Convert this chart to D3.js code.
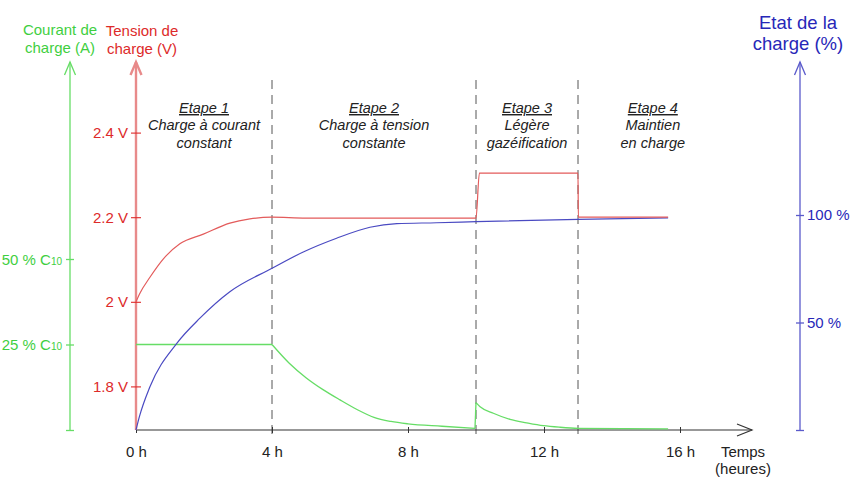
<!DOCTYPE html>
<html>
<head>
<meta charset="utf-8">
<script src="https://cdn.jsdelivr.net/npm/d3@7"></script>
<style>
	body { margin: 0; background: #fff; }
	text { font-family: "Liberation Sans", Arial, sans-serif; }
</style>
</head>
<body>
<div id="chart"></div>
<script>

///////////////////////////////////////////////////////////////////////////
//////////////////////////////// The data /////////////////////////////////
///////////////////////////////////////////////////////////////////////////

//Tension de charge (V)
var timeTension = [0, 0.1, 0.41, 0.8, 1.29, 1.98, 2.76, 3.35, 4, 5, 10, 10.1, 13, 13.01, 15.65];
var tension     = [2.0, 2.018, 2.058, 2.101, 2.137, 2.16, 2.186, 2.196, 2.2, 2.198, 2.198, 2.304, 2.304, 2.2, 2.2];

//Courant de charge (% C10)
var timeCourant = [0, 4, 4.5, 5, 5.5, 6, 6.5, 7, 7.5, 8, 9, 9.97, 10.0, 10.12, 10.51, 11, 11.49, 11.98, 12.47, 13.01, 15.65];
var courant     = [25, 25, 19.6, 15.3, 11.8, 8.8, 6.0, 3.7, 2.5, 1.8, 1.1, 0.5, 8.0, 6.8, 4.9, 3.1, 2.1, 1.26, 0.8, 0.5, 0.3];
//index where each smooth piece of the current curve starts
var courantPieces = [0, 1, 12];

//Etat de la charge (%)
var timeEtat = [0, 0.1, 0.41, 1.2, 1.88, 2.76, 4, 4.92, 5.9, 6.88, 7.67, 8.84, 10, 13, 15.65];
var etat     = [0, 6.2, 20.1, 40.3, 52, 64.3, 75.2, 82.8, 89.2, 94.3, 96.0, 96.4, 96.9, 98, 98.7];

//Axes
var timeTicks = [0, 4, 8, 12, 16];
var tensionTicks = [1.8, 2, 2.2, 2.4];
var courantTicks = [0, 25, 50];
var etatTicks = [0, 50, 100];

//Stages
var stageLimits = [4, 10, 13];
var stageCenters = [2, 7, 11.5, 15.2];
var stageTitles = ["Etape 1", "Etape 2", "Etape 3", "Etape 4"];
var stageTexts = [
	["Charge à courant", "constant"],
	["Charge à tension", "constante"],
	["Légère", "gazéification"],
	["Maintien", "en charge"]
];

///////////////////////////////////////////////////////////////////////////
//////////////////// Set up and initiate svg container ////////////////////
///////////////////////////////////////////////////////////////////////////

var width = 851,
	height = 483;

var svg = d3.select("#chart").append("svg")
	.attr("width", width)
	.attr("height", height);

var green = "#3fcf3f", greenLine = "#66dd66",
	red = "#dd2a2a", redLine = "#e35b5b", redAxis = "#e88a8a",
	blue = "#2727b8", blueLine = "#4a4ac2", blueAxis = "#5a5acb",
	grey = "#222";

//Scales
var x = d3.scaleLinear().domain([0, 16]).range([136, 680]);
var yV = d3.scaleLinear().domain([1.8, 2.4]).range([386.4, 132.6]);
var yI = d3.scaleLinear().domain([0, 50]).range([430, 259]);
var yE = d3.scaleLinear().domain([0, 100]).range([430, 215]);

var axisTop = 62,
	baseY = 430;

///////////////////////////////////////////////////////////////////////////
///////////////////////////// Stage dividers //////////////////////////////
///////////////////////////////////////////////////////////////////////////

svg.selectAll(".stageLine")
	.data(stageLimits)
	.enter().append("line")
	.attr("class", "stageLine")
	.attr("x1", function(d) { return x(d); })
	.attr("x2", function(d) { return x(d); })
	.attr("y1", 80)
	.attr("y2", 434)
	.style("stroke", "#555")
	.style("stroke-width", 1)
	.style("stroke-dasharray", "9,6");

var stage = svg.selectAll(".stage")
	.data(stageTitles)
	.enter().append("g")
	.attr("class", "stage")
	.attr("transform", function(d, i) { return "translate(" + x(stageCenters[i]) + ",0)"; });

stage.append("text")
	.attr("y", 113)
	.attr("text-anchor", "middle")
	.style("font-size", "14.5px")
	.style("font-style", "italic")
	.style("text-decoration", "underline")
	.style("fill", grey)
	.text(function(d) { return d; });

stage.each(function(d, i) {
	d3.select(this).selectAll(".stageText")
		.data(stageTexts[i])
		.enter().append("text")
		.attr("y", function(t, j) { return 130 + j * 17.5; })
		.attr("text-anchor", "middle")
		.style("font-size", "14.5px")
		.style("font-style", "italic")
		.style("fill", grey)
		.text(function(t) { return t; });
});

///////////////////////////////////////////////////////////////////////////
///////////////////////////////// Axes ////////////////////////////////////
///////////////////////////////////////////////////////////////////////////

function arrowUp(cx, color, w) {
	svg.append("path")
		.attr("d", "M" + (cx - 5.5) + "," + (axisTop + 13) + "L" + cx + "," + axisTop + "L" + (cx + 5.5) + "," + (axisTop + 13))
		.style("fill", "none")
		.style("stroke", color)
		.style("stroke-width", w);
	svg.append("line")
		.attr("x1", cx).attr("x2", cx)
		.attr("y1", baseY).attr("y2", axisTop)
		.style("stroke", color)
		.style("stroke-width", w);
}

//Time axis
svg.append("line")
	.attr("x1", 136).attr("x2", 752)
	.attr("y1", baseY).attr("y2", baseY)
	.style("stroke", "#333")
	.style("stroke-width", 1.2);
svg.append("path")
	.attr("d", "M737,424L752,430L737,436")
	.style("fill", "none")
	.style("stroke", "#333")
	.style("stroke-width", 1.2);

var xAxis = svg.append("g")
	.attr("transform", "translate(0," + baseY + ")")
	.call(d3.axisBottom(x).tickValues(timeTicks).tickSize(3).tickFormat(function(d) { return d + " h"; }));
xAxis.select(".domain").remove();
xAxis.selectAll(".tick line").attr("y1", -3).style("stroke", "#333");
xAxis.selectAll(".tick text")
	.attr("y", 27).attr("dy", 0)
	.style("font-size", "15px")
	.style("font-family", "Liberation Sans, Arial, sans-serif")
	.style("fill", grey);

svg.append("text").attr("x", 743).attr("y", 457).attr("text-anchor", "middle")
	.style("font-size", "15px").style("fill", grey).text("Temps");
svg.append("text").attr("x", 743).attr("y", 474).attr("text-anchor", "middle")
	.style("font-size", "15px").style("fill", grey).text("(heures)");

//Current axis (green)
arrowUp(70, greenLine, 1.3);
var iAxis = svg.append("g")
	.attr("transform", "translate(70,0)")
	.call(d3.axisLeft(yI).tickValues(courantTicks).tickSize(4).tickFormat(""));
iAxis.select(".domain").remove();
iAxis.selectAll(".tick line").attr("x2", -4).attr("x1", 4).style("stroke", greenLine).style("stroke-width", 1.3);
iAxis.selectAll(".tick")
	.filter(function(d) { return d > 0; })
	.append("text")
	.attr("x", -8)
	.attr("dy", "0.35em")
	.attr("text-anchor", "end")
	.style("font-size", "15px")
	.style("font-family", "Liberation Sans, Arial, sans-serif")
	.style("fill", green)
	.each(function(d) {
		var t = d3.select(this);
		t.append("tspan").text(d + " % C");
		t.append("tspan").style("font-size", "10px").text("10");
	});

//Tension axis (red)
arrowUp(136, redAxis, 2.4);
var vAxis = svg.append("g")
	.attr("transform", "translate(136,0)")
	.call(d3.axisLeft(yV).tickValues(tensionTicks).tickSize(5).tickFormat(function(d) { return d + " V"; }));
vAxis.select(".domain").remove();
vAxis.selectAll(".tick line").attr("x1", 5).attr("x2", -5).style("stroke", red).style("stroke-width", 1.1);
vAxis.selectAll(".tick text")
	.attr("x", -8)
	.style("font-size", "15px")
	.style("font-family", "Liberation Sans, Arial, sans-serif")
	.style("fill", red);

//Etat axis (blue)
arrowUp(800, blueAxis, 1.3);
var eAxis = svg.append("g")
	.attr("transform", "translate(800,0)")
	.call(d3.axisRight(yE).tickValues(etatTicks).tickSize(4).tickFormat(function(d) { return d > 0 ? d + " %" : ""; }));
eAxis.select(".domain").remove();
eAxis.selectAll(".tick line").attr("x1", -4).attr("x2", 4).style("stroke", blueAxis).style("stroke-width", 1.3);
eAxis.selectAll(".tick text")
	.attr("x", 7)
	.style("font-size", "15px")
	.style("font-family", "Liberation Sans, Arial, sans-serif")
	.style("fill", blue);

//Axis titles
function title(lines, cx, y0, dy, size, color) {
	svg.selectAll(null)
		.data(lines)
		.enter().append("text")
		.attr("x", cx)
		.attr("y", function(d, i) { return y0 + i * dy; })
		.attr("text-anchor", "middle")
		.style("font-size", size)
		.style("fill", color)
		.text(function(d) { return d; });
}
title(["Courant de", "charge (A)"], 60, 35, 18, "15px", green);
title(["Tension de", "charge (V)"], 142, 36, 18, "15px", red);
title(["Etat de la", "charge (%)"], 798, 29, 21, "18.5px", blue);

///////////////////////////////////////////////////////////////////////////
///////////////////////////////// Curves //////////////////////////////////
///////////////////////////////////////////////////////////////////////////

var lineV = d3.line()
	.curve(d3.curveMonotoneX)
	.x(function(d, i) { return x(timeTension[i]); })
	.y(function(d) { return yV(d); });

var lineE = d3.line()
	.curve(d3.curveMonotoneX)
	.x(function(d, i) { return x(timeEtat[i]); })
	.y(function(d) { return yE(d); });

//Current: smooth pieces, joined by straight segments (the jump at 10 h)
var lineI = d3.line()
	.curve(d3.curveMonotoneX)
	.x(function(d) { return x(timeCourant[d]); })
	.y(function(d) { return yI(courant[d]); });
var lineIStraight = d3.line()
	.x(function(d) { return x(timeCourant[d]); })
	.y(function(d) { return yI(courant[d]); });

var idx = d3.range(courant.length);
courantPieces.forEach(function(start, k) {
	var end = k < courantPieces.length - 1 ? courantPieces[k + 1] : courant.length;
	//piece stops one point before the next start when there is a jump
	var piece = idx.slice(start, k < courantPieces.length - 1 && courantPieces[k + 1] - start > 1 ? end : end + 1);
	if (piece.length > 1) {
		svg.append("path")
			.attr("d", lineI(piece))
			.style("fill", "none")
			.style("stroke", greenLine)
			.style("stroke-width", 1.3);
	}
	if (k < courantPieces.length - 1) {
		var last = piece[piece.length - 1];
		svg.append("path")
			.attr("d", lineIStraight([last, courantPieces[k + 1]]))
			.style("fill", "none")
			.style("stroke", greenLine)
			.style("stroke-width", 1.3);
	}
});

svg.append("path")
	.attr("d", lineE(etat))
	.style("fill", "none")
	.style("stroke", blueLine)
	.style("stroke-width", 1.2);

svg.append("path")
	.attr("d", lineV(tension))
	.style("fill", "none")
	.style("stroke", redLine)
	.style("stroke-width", 1.2);

</script>
</body>
</html>
